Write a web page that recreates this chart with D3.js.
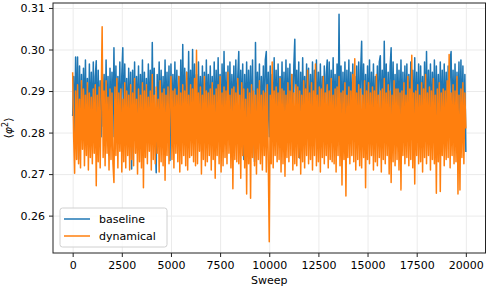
<!DOCTYPE html>
<html lang="en">
<head>
    <meta charset="utf-8">
    <title>phi squared vs sweep</title>
    <script src="https://d3js.org/d3.v7.min.js"></script>
    <style>
        body {
            margin: 0;
            background: #fff;
            font-family: "DejaVu Sans", sans-serif;
        }
        .tick text {
            font-size: 11px;
            fill: #000;
        }
    </style>
</head>
<body>
    <svg id="chart" width="488" height="290"></svg>

    <script>
        // sweeps between stored samples (one row below = 1000 sweeps)
        const sweepStep = 50;

        const baseline = [
            0.2840, 0.2935, 0.2790, 0.2982, 0.2810, 0.2982, 0.2736, 0.2960, 0.2800, 0.2940, 0.2785, 0.2955, 0.2815, 0.2975, 0.2795, 0.2930, 0.2780, 0.2965, 0.2805, 0.2945,
            0.2790, 0.2970, 0.2810, 0.2935, 0.2973, 0.2785, 0.2950, 0.2800, 0.2925, 0.2790, 0.2965, 0.2815, 0.2940, 0.2785, 0.2975, 0.2800, 0.2935, 0.2746, 0.2955, 0.2810,
            0.2945, 0.2790, 0.3004, 0.2805, 0.2960, 0.2780, 0.2935, 0.2815, 0.2970, 0.2795, 0.2940, 0.3004, 0.2785, 0.2965, 0.2810, 0.2930, 0.2795, 0.2955, 0.2805, 0.2945,
            0.2712, 0.2950, 0.2800, 0.2970, 0.2785, 0.2935, 0.2815, 0.2960, 0.2790, 0.2940, 0.2805, 0.2975, 0.2780, 0.2945, 0.2810, 0.2930, 0.2795, 0.2965, 0.2800, 0.2950,
            0.2790, 0.3017, 0.2805, 0.2955, 0.2785, 0.2703, 0.2940, 0.2810, 0.2970, 0.2795, 0.2950, 0.2800, 0.2935, 0.2785, 0.2975, 0.2810, 0.2945, 0.2795, 0.2960, 0.2733,
            0.2965, 0.2800, 0.2940, 0.2785, 0.2970, 0.2810, 0.2950, 0.2795, 0.2935, 0.2805, 0.2975, 0.2790, 0.3012, 0.2800, 0.2955, 0.2785, 0.2945, 0.2810, 0.2995, 0.2795,
            0.2950, 0.2805, 0.3000, 0.2790, 0.2965, 0.2815, 0.2940, 0.2785, 0.2970, 0.2800, 0.2935, 0.2810, 0.2960, 0.2795, 0.2945, 0.2780, 0.2975, 0.2805, 0.2940, 0.2790,
            0.2960, 0.2810, 0.2935, 0.2795, 0.2970, 0.2800, 0.2950, 0.2785, 0.2980, 0.2810, 0.2940, 0.2795, 0.2965, 0.2805, 0.2995, 0.2790, 0.2945, 0.2815, 0.2960, 0.2785,
            0.2970, 0.2800, 0.2940, 0.2810, 0.2960, 0.2790, 0.2975, 0.2805, 0.2935, 0.2995, 0.2795, 0.2950, 0.2810, 0.2965, 0.2735, 0.2940, 0.2800, 0.2970, 0.2790, 0.2950,
            0.2805, 0.2960, 0.2790, 0.2975, 0.2810, 0.2730, 0.3017, 0.2795, 0.2945, 0.2800, 0.2965, 0.2785, 0.2935, 0.2810, 0.2960, 0.2795, 0.2975, 0.2995, 0.2800, 0.2945,
            0.2790, 0.2960, 0.2805, 0.2940, 0.2795, 0.2980, 0.2810, 0.2950, 0.2785, 0.2965, 0.2800, 0.2935, 0.2815, 0.2970, 0.2790, 0.2945, 0.2805, 0.2975, 0.2795, 0.2955,
            0.2800, 0.2965, 0.2785, 0.2940, 0.2810, 0.2960, 0.3025, 0.2795, 0.2950, 0.2805, 0.2970, 0.2739, 0.2945, 0.2790, 0.2980, 0.2810, 0.2935, 0.2795, 0.2965, 0.2800,
            0.2955, 0.2785, 0.2940, 0.2810, 0.2970, 0.2795, 0.2950, 0.2805, 0.2975, 0.2790, 0.2945, 0.2815, 0.2965, 0.2800, 0.2935, 0.2785, 0.2960, 0.2810, 0.2940, 0.2975,
            0.2795, 0.2970, 0.2805, 0.2950, 0.2785, 0.2980, 0.2810, 0.2940, 0.2800, 0.2965, 0.2790, 0.3085, 0.2805, 0.2960, 0.2795, 0.2945, 0.2810, 0.2970, 0.2785, 0.2950,
            0.2800, 0.2975, 0.2790, 0.2945, 0.2810, 0.2965, 0.2795, 0.2935, 0.2805, 0.2960, 0.2785, 0.2970, 0.2800, 0.2950, 0.3020, 0.2790, 0.2965, 0.2810, 0.2940, 0.2795,
            0.2960, 0.2805, 0.2975, 0.2785, 0.2945, 0.2800, 0.2965, 0.2790, 0.2935, 0.2810, 0.2960, 0.2795, 0.2970, 0.2985, 0.2800, 0.2950, 0.2785, 0.3020, 0.2805, 0.2965,
            0.2790, 0.2945, 0.2810, 0.2960, 0.3004, 0.2795, 0.2970, 0.2800, 0.2940, 0.2785, 0.2965, 0.2810, 0.2950, 0.2795, 0.2975, 0.2800, 0.2945, 0.2790, 0.2960, 0.2805,
            0.2965, 0.2785, 0.2940, 0.2810, 0.2970, 0.2795, 0.2950, 0.2800, 0.2980, 0.2790, 0.2945, 0.2805, 0.2965, 0.2785, 0.2960, 0.2810, 0.2935, 0.2795, 0.2970, 0.2800,
            0.2995, 0.2790, 0.2950, 0.2805, 0.2965, 0.2785, 0.2945, 0.2810, 0.2975, 0.2795, 0.2960, 0.2800, 0.2940, 0.2790, 0.2970, 0.2805, 0.2950, 0.2785, 0.2965, 0.2810,
            0.2945, 0.2795, 0.2960, 0.2800, 0.2975, 0.2995, 0.2790, 0.2950, 0.2805, 0.2965, 0.2785, 0.2945, 0.2810, 0.2970, 0.2795, 0.2975, 0.2800, 0.2960, 0.2790, 0.2940,
            0.2753
        ];

        const dynamical = [
            0.2945, 0.2790, 0.2702, 0.2900, 0.2735, 0.2915, 0.2725, 0.2880, 0.2715, 0.2925, 0.2760, 0.2905, 0.2720, 0.2890, 0.2745, 0.2920, 0.2710, 0.2895, 0.2740, 0.2885,
            0.2725, 0.2905, 0.2750, 0.2915, 0.2672, 0.2890, 0.2730, 0.2910, 0.2715, 0.2880, 0.3055, 0.2740, 0.2900, 0.2720, 0.2925, 0.2750, 0.2885, 0.2710, 0.2905, 0.2735,
            0.2895, 0.2725, 0.2680, 0.2910, 0.2745, 0.2930, 0.2715, 0.2895, 0.2755, 0.2905, 0.2705, 0.2880, 0.2730, 0.2920, 0.2715, 0.2900, 0.2745, 0.2890, 0.2710, 0.2915,
            0.2735, 0.2895, 0.2720, 0.2930, 0.2750, 0.2880, 0.2700, 0.2905, 0.2730, 0.2890, 0.2715, 0.2920, 0.2667, 0.2900, 0.2740, 0.2915, 0.2725, 0.2885, 0.2755, 0.2900,
            0.2710, 0.2940, 0.2735, 0.2890, 0.2725, 0.2910, 0.2750, 0.2880, 0.2705, 0.2925, 0.2730, 0.2895, 0.2720, 0.2905, 0.2685, 0.2890, 0.2745, 0.2910, 0.2725, 0.2885,
            0.2935, 0.2735, 0.2900, 0.2715, 0.2905, 0.2750, 0.2890, 0.2730, 0.2935, 0.2705, 0.2895, 0.2725, 0.2915, 0.2745, 0.2900, 0.2720, 0.2945, 0.2710, 0.2890, 0.2740,
            0.2915, 0.2745, 0.2905, 0.2730, 0.2930, 0.2720, 0.2998, 0.2725, 0.2895, 0.2755, 0.2910, 0.2700, 0.2890, 0.2735, 0.2935, 0.2720, 0.2900, 0.2730, 0.2895, 0.2745,
            0.2905, 0.2710, 0.2920, 0.2735, 0.2890, 0.2690, 0.2905, 0.2745, 0.2915, 0.2725, 0.2935, 0.2705, 0.2895, 0.2720, 0.2910, 0.2740, 0.2900, 0.2725, 0.2945, 0.2750,
            0.2890, 0.2715, 0.2905, 0.2665, 0.2910, 0.2735, 0.2895, 0.2730, 0.2930, 0.2725, 0.2890, 0.2690, 0.2920, 0.2745, 0.2905, 0.2715, 0.2880, 0.2652, 0.2905, 0.2725,
            0.2895, 0.2642, 0.2915, 0.2740, 0.2900, 0.2720, 0.2890, 0.2700, 0.2905, 0.2735, 0.2925, 0.2725, 0.2890, 0.2710, 0.2900, 0.2745, 0.2895, 0.2705, 0.2915, 0.2730,
            0.2537, 0.2890, 0.2725, 0.2970, 0.2715, 0.2900, 0.2745, 0.2910, 0.2730, 0.2895, 0.2735, 0.2930, 0.2705, 0.2905, 0.2725, 0.2900, 0.2695, 0.2890, 0.2740, 0.2920,
            0.2730, 0.2900, 0.2745, 0.2940, 0.2710, 0.2895, 0.2725, 0.2915, 0.2720, 0.2910, 0.2740, 0.2900, 0.2700, 0.2890, 0.2730, 0.2925, 0.2715, 0.2905, 0.2745, 0.2950,
            0.2725, 0.2895, 0.2735, 0.2920, 0.2710, 0.2900, 0.2745, 0.2965, 0.2720, 0.2890, 0.2730, 0.2910, 0.2705, 0.2905, 0.2740, 0.2935, 0.2725, 0.2895, 0.2745, 0.2915,
            0.2715, 0.2900, 0.2735, 0.2930, 0.2730, 0.2890, 0.2725, 0.2905, 0.2705, 0.2910, 0.2745, 0.2935, 0.2720, 0.2895, 0.2674, 0.2900, 0.2735, 0.2920, 0.2647, 0.2890,
            0.2740, 0.2910, 0.2725, 0.2900, 0.2745, 0.2940, 0.2730, 0.2978, 0.2710, 0.2895, 0.2735, 0.2915, 0.2720, 0.2905, 0.2715, 0.2890, 0.2740, 0.2925, 0.2667, 0.2900,
            0.2735, 0.2920, 0.2725, 0.2895, 0.2745, 0.2910, 0.2710, 0.2900, 0.2730, 0.2940, 0.2720, 0.2890, 0.2740, 0.2900, 0.2705, 0.2905, 0.2735, 0.2930, 0.2725, 0.2895,
            0.2745, 0.2915, 0.2700, 0.2900, 0.2680, 0.2890, 0.2730, 0.2925, 0.2720, 0.2905, 0.2735, 0.2905, 0.2710, 0.2895, 0.2662, 0.2900, 0.2745, 0.2920, 0.2725, 0.2890,
            0.2740, 0.2935, 0.2720, 0.2905, 0.2735, 0.2986, 0.2715, 0.2895, 0.2676, 0.2900, 0.2745, 0.2915, 0.2725, 0.2890, 0.2730, 0.2920, 0.2705, 0.2905, 0.2740, 0.2940,
            0.2725, 0.2895, 0.2745, 0.2910, 0.2710, 0.2900, 0.2735, 0.2930, 0.2725, 0.2890, 0.2654, 0.2905, 0.2730, 0.2920, 0.2658, 0.2895, 0.2745, 0.2905, 0.2720, 0.2900,
            0.2735, 0.2925, 0.2740, 0.2988, 0.2715, 0.2895, 0.2745, 0.2915, 0.2725, 0.2900, 0.2730, 0.2935, 0.2652, 0.2890, 0.2662, 0.2905, 0.2740, 0.2920, 0.2725, 0.2895,
            0.2810
        ];

        const xTicks = [0, 2500, 5000, 7500, 10000, 12500, 15000, 17500, 20000];
        const yTicks = [0.26, 0.27, 0.28, 0.29, 0.30, 0.31];

        const series = [
            { name: "baseline", values: baseline, color: "#1f77b4" },
            { name: "dynamical", values: dynamical, color: "#ff7f0e" }
        ];

        const margin = { top: 3, right: 2.5, bottom: 37, left: 53 };
        const svg = d3.select("#chart");
        const width = +svg.attr("width") - margin.left - margin.right;
        const height = +svg.attr("height") - margin.top - margin.bottom;

        const x = d3.scaleLinear().domain([-1000, 21000]).range([0, width]);
        const y = d3.scaleLinear().domain([0.2510, 0.3112]).range([height, 0]);

        const g = svg.append("g")
            .attr("transform", `translate(${margin.left},${margin.top})`);

        // grid
        g.append("g")
            .attr("transform", `translate(0,${height})`)
            .call(d3.axisBottom(x).tickValues(xTicks).tickSize(-height).tickFormat(""))
            .call(a => a.select(".domain").remove())
            .selectAll("line").attr("stroke", "#ebebeb").attr("stroke-width", 1);
        g.append("g")
            .call(d3.axisLeft(y).tickValues(yTicks).tickSize(-width).tickFormat(""))
            .call(a => a.select(".domain").remove())
            .selectAll("line").attr("stroke", "#ebebeb").attr("stroke-width", 1);

        const line = d3.line()
            .x((d, i) => x(i * sweepStep))
            .y(d => y(d));

        g.selectAll(".series")
            .data(series)
            .join("path")
            .attr("class", "series")
            .attr("fill", "none")
            .attr("stroke", d => d.color)
            .attr("stroke-width", 1.5)
            .attr("stroke-linejoin", "round")
            .attr("d", d => line(d.values));

        // axes
        const xAxis = g.append("g")
            .attr("transform", `translate(0,${height})`)
            .call(d3.axisBottom(x).tickValues(xTicks).tickSize(4).tickPadding(4).tickFormat(d3.format("d")));
        const yAxis = g.append("g")
            .call(d3.axisLeft(y).tickValues(yTicks).tickSize(4).tickPadding(4).tickFormat(d3.format(".2f")));

        [xAxis, yAxis].forEach(a => {
            a.select(".domain").remove();
            a.selectAll("line").attr("stroke", "#222");
            a.selectAll("text").style("font-family", "DejaVu Sans").attr("fill", "#000");
        });

        // frame
        g.append("rect")
            .attr("width", width)
            .attr("height", height)
            .attr("fill", "none")
            .attr("stroke", "#222")
            .attr("stroke-width", 1);

        // axis labels
        svg.append("text")
            .attr("x", margin.left + width / 2)
            .attr("y", 284)
            .attr("text-anchor", "middle")
            .style("font-size", "11px")
            .text("Sweep");

        const yl = svg.append("text")
            .attr("transform", `translate(12,${margin.top + height / 2}) rotate(-90)`)
            .attr("text-anchor", "middle")
            .style("font-size", "11px");
        yl.append("tspan").text("\u27e8");
        yl.append("tspan").style("font-style", "italic").text("\u03c6");
        yl.append("tspan").attr("dy", -4).style("font-size", "8px").text("2");
        yl.append("tspan").attr("dy", 4).text("\u27e9");

        // legend
        const lg = svg.append("g").attr("transform", "translate(60,208)");
        lg.append("rect")
            .attr("width", 107)
            .attr("height", 39)
            .attr("rx", 2.5)
            .attr("fill", "#fff")
            .attr("fill-opacity", 0.8)
            .attr("stroke", "#d0d0d0");
        series.forEach((s, i) => {
            const yy = 11 + i * 17;
            lg.append("line")
                .attr("x1", 4).attr("x2", 30)
                .attr("y1", yy).attr("y2", yy)
                .attr("stroke", s.color)
                .attr("stroke-width", 1.5);
            lg.append("text")
                .attr("x", 39)
                .attr("y", yy + 4)
                .style("font-size", "11px")
                .text(s.name);
        });
    </script>
</body>
</html>
